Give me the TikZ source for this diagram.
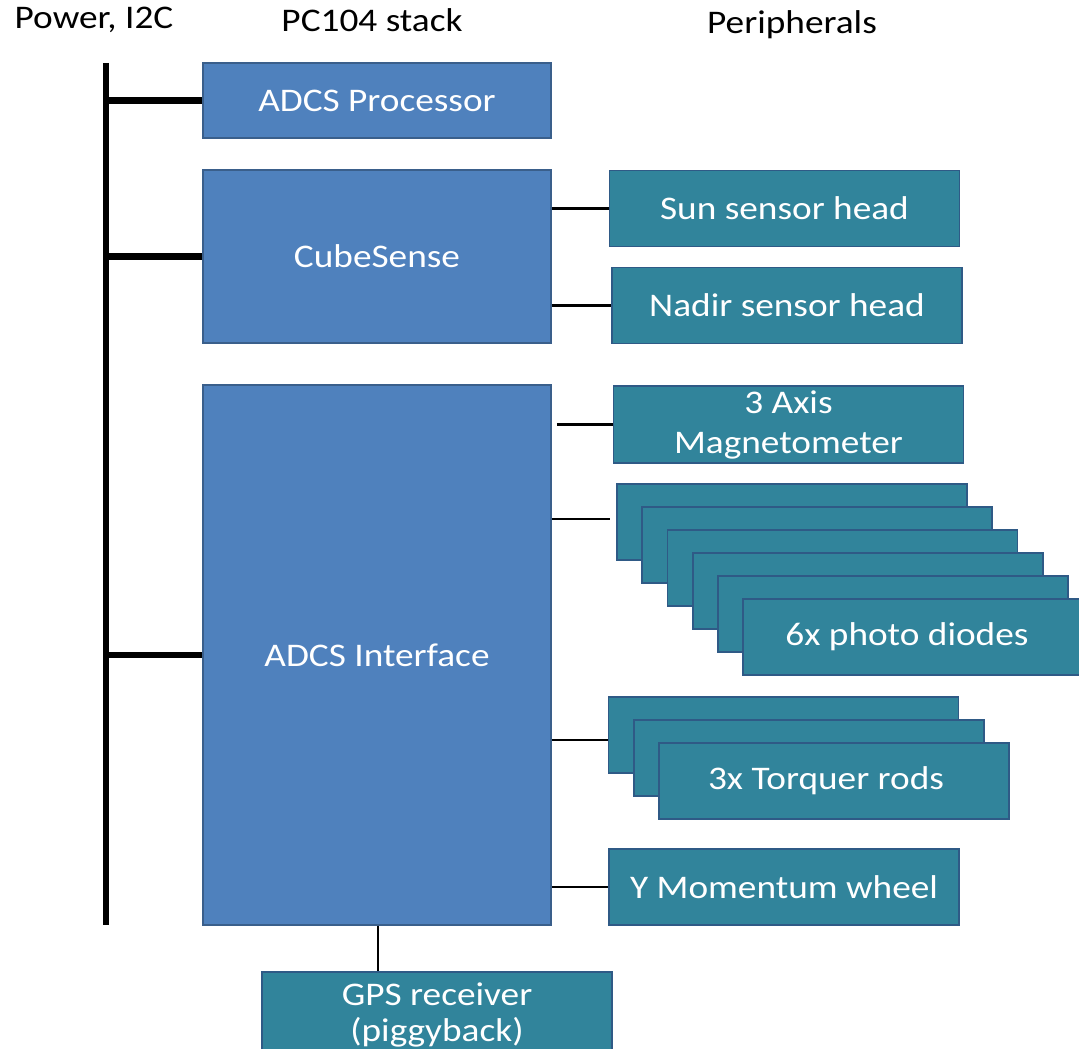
\documentclass[tikz,border=0pt]{standalone}
\usepackage{fontspec}
\setmainfont[FakeStretch=1.13]{Carlito}
\definecolor{pcblue}{HTML}{4F81BD}
\definecolor{pcborder}{HTML}{3A5F8B}
\definecolor{perteal}{HTML}{31849B}
\definecolor{perborder}{HTML}{2F5A86}
\begin{document}
\begin{tikzpicture}[x=1pt,y=-1pt,
  base/.style={draw, line width=1.8pt, rectangle, inner sep=0pt, text=white,
    font=\fontsize{33}{38}\selectfont, align=center},
  stackbox/.style={base, fill=pcblue, draw=pcborder, minimum width=348, },
  perbox/.style={base, fill=perteal, draw=perborder, minimum width=350, minimum height=76},
  bus/.style={line width=6.5pt},
  wire/.style={line width=2.6pt},
  hdr/.style={font=\fontsize{33}{38}\selectfont, text=black}]
\useasboundingbox (0,0) rectangle (1079,1049);
\clip (0,0) rectangle (1079,1049);

% headers
\node[hdr] (h1) at (94,20) {Power, I2C};
\node[hdr] (h2) at (372,20) {PC104 stack};
\node[hdr] (h3) at (792,25) {Peripherals};

% PC104 stack
\node[stackbox, minimum height=75] (proc) at (377,100.5) {ADCS Processor};
\node[stackbox, minimum height=173] (cube) at (377,256.5) {CubeSense};
\node[stackbox, minimum height=540] (iface) at (377,655) {ADCS Interface};

% bus
\coordinate (bt) at (106,63);
\coordinate (bb) at (106,925);
\draw[bus] (bt) -- (bb);
\draw[bus] (proc.west) -- (proc.west -| bt);
\draw[bus] (cube.west) -- (cube.west -| bt);
\draw[bus] (iface.west) -- (iface.west -| bt);

% peripherals
\node[perbox] (sun) at (784.5,208.5) {Sun sensor head};
\node[perbox] (nadir) at (787,305.5) {Nadir sensor head};
\node[perbox, minimum height=77] (mag) at (788.5,424.5) {3 Axis\\[2pt]Magnetometer};

\foreach \i in {0,...,4}{
  \node[perbox] (pd\i) at ({792+25.2*\i},{522+23*\i}) {};
}
\node[perbox] (pd5) at (918,637) {\hspace*{-22pt}6x photo diodes};

\node[perbox] (tq0) at (783.5,735) {};
\node[perbox] (tq1) at (809,758) {};
\node[perbox] (tq2) at (834,781) {\hspace*{-16pt}3x Torquer rods};

\node[perbox] (wheel) at (784,887) {Y Momentum wheel};

\node[perbox, minimum height=86] (gps) at (437,1015) {GPS receiver\\[-2pt](piggyback)};

% connectors
\draw[wire] (iface.east |- sun.west) -- (sun.west);
\draw[wire] (iface.east |- nadir.west) -- (nadir.west);
\coordinate (magc) at ([xshift=5pt]iface.east |- mag.west);
\draw[wire] (magc) -- (mag.west);
\coordinate (pdc) at ([xshift=-6pt,yshift=3pt]pd0.west);
\draw[wire] (iface.east |- pdc) -- (pdc);
\coordinate (tqc) at ([yshift=-5pt]tq0.west);
\draw[wire] (iface.east |- tqc) -- (tqc);
\draw[wire] (iface.east |- wheel.west) -- (wheel.west);
\draw[wire] ([xshift=1pt]iface.south) -- ([xshift=1pt]iface.south |- gps.north);
\end{tikzpicture}
\end{document}
